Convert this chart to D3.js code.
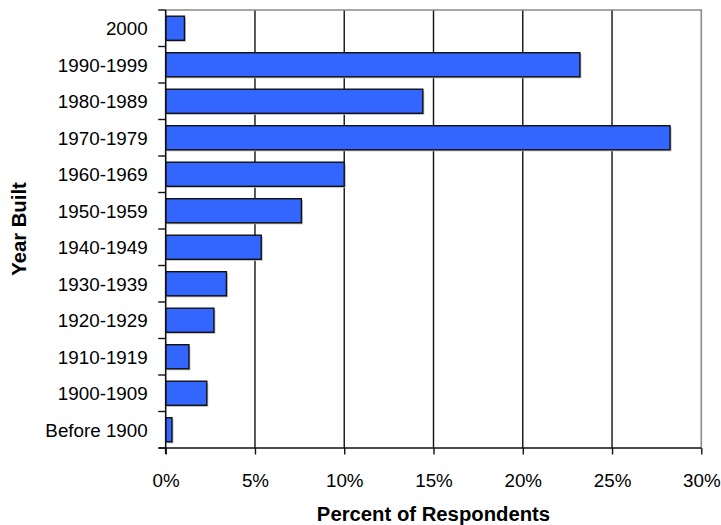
<!DOCTYPE html>
<html>
<head>
<meta charset="utf-8">
<script src="https://cdn.jsdelivr.net/npm/d3@7"></script>
<style>
  html, body { margin: 0; padding: 0; background: #fff; }
  svg { display: block; font-family: "Liberation Sans", Arial, sans-serif; }
</style>
</head>
<body>
<svg id="chart" width="721" height="525"></svg>
<script>
// Year-built categories, top to bottom
const categories = ["2000", "1990-1999", "1980-1989", "1970-1979", "1960-1969", "1950-1959",
                    "1940-1949", "1930-1939", "1920-1929", "1910-1919", "1900-1909", "Before 1900"];
// Share of respondents in each category (percent)
const percents = [1.05, 23.2, 14.4, 28.25, 10.0, 7.6, 5.35, 3.4, 2.7, 1.3, 2.3, 0.35];
// Value-axis ticks (percent)
const xTicks = [0, 5, 10, 15, 20, 25, 30];

const data = categories.map((c, i) => ({ cat: c, value: percents[i] }));

const svg = d3.select("#chart");
const plotLeft = 165.7, plotRight = 701.3, plotTop = 10, plotBottom = 448;

const x = d3.scaleLinear().domain([0, 30]).range([plotLeft, plotRight]);
const y = d3.scaleBand().domain(categories).range([plotTop, plotBottom])
  .paddingInner(0.34).paddingOuter(0.17);

// Gridlines at each interior tick
svg.append("g").selectAll("line")
  .data(xTicks.filter(t => t > 0 && t < 30))
  .join("line")
  .attr("x1", d => x(d)).attr("x2", d => x(d))
  .attr("y1", plotTop).attr("y2", plotBottom)
  .attr("stroke", "#111").attr("stroke-width", 1.4);

// Gray frame on top and right
svg.append("path")
  .attr("d", `M${plotLeft},${plotTop}H${plotRight}V${plotBottom}`)
  .attr("fill", "none").attr("stroke", "#8a8a8a").attr("stroke-width", 1.6);

// Bar shadows
svg.append("g").selectAll("rect")
  .data(data)
  .join("rect")
  .attr("x", x(0) + 1.5)
  .attr("y", d => y(d.cat) + 1.5)
  .attr("width", d => x(d.value) - x(0))
  .attr("height", y.bandwidth())
  .attr("fill", "#b8b8b8");

// Bars
svg.append("g").selectAll("rect")
  .data(data)
  .join("rect")
  .attr("x", x(0))
  .attr("y", d => y(d.cat))
  .attr("width", d => x(d.value) - x(0))
  .attr("height", y.bandwidth())
  .attr("fill", "#3366ff")
  .attr("stroke", "#111")
  .attr("stroke-width", 1.4);

// Category axis: labels at band centres, ticks at band boundaries
const yAxis = svg.append("g")
  .attr("transform", `translate(${plotLeft},1)`)
  .call(d3.axisLeft(y).tickSize(0).tickPadding(18));
yAxis.select(".domain").remove();
yAxis.selectAll("text")
  .attr("font-size", 18.8).attr("fill", "#000")
  .attr("font-family", "'Liberation Sans', Arial, sans-serif");

const step = y.step();
const boundaries = d3.range(categories.length + 1).map(i => plotTop + i * step);
svg.append("g").selectAll("line")
  .data(boundaries)
  .join("line")
  .attr("x1", plotLeft - 7.5).attr("x2", plotLeft)
  .attr("y1", d => d).attr("y2", d => d)
  .attr("stroke", "#111").attr("stroke-width", 1.4);

svg.append("line")
  .attr("x1", plotLeft).attr("x2", plotLeft)
  .attr("y1", plotTop).attr("y2", plotBottom + 6)
  .attr("stroke", "#111").attr("stroke-width", 1.6);

// Value axis
const xAxis = svg.append("g")
  .attr("transform", `translate(0,${plotBottom})`)
  .call(d3.axisBottom(x).tickValues(xTicks).tickFormat(d => d + "%")
    .tickSize(6.5).tickSizeOuter(0).tickPadding(19));
xAxis.select(".domain").remove();
xAxis.selectAll(".tick line").attr("stroke", "#111").attr("stroke-width", 1.4);
xAxis.selectAll("text")
  .attr("font-size", 18.8).attr("fill", "#000")
  .attr("font-family", "'Liberation Sans', Arial, sans-serif");

svg.append("line")
  .attr("x1", plotLeft - 7).attr("x2", plotRight)
  .attr("y1", plotBottom).attr("y2", plotBottom)
  .attr("stroke", "#111").attr("stroke-width", 1.6);

// Axis titles
svg.append("text")
  .attr("x", (plotLeft + plotRight) / 2).attr("y", 521)
  .attr("text-anchor", "middle")
  .attr("font-size", 20.3).attr("font-weight", "bold")
  .text("Percent of Respondents");

svg.append("text")
  .attr("transform", `translate(25.5,${(plotTop + plotBottom) / 2}) rotate(-90)`)
  .attr("text-anchor", "middle")
  .attr("font-size", 20.3).attr("font-weight", "bold")
  .text("Year Built");
</script>
</body>
</html>
